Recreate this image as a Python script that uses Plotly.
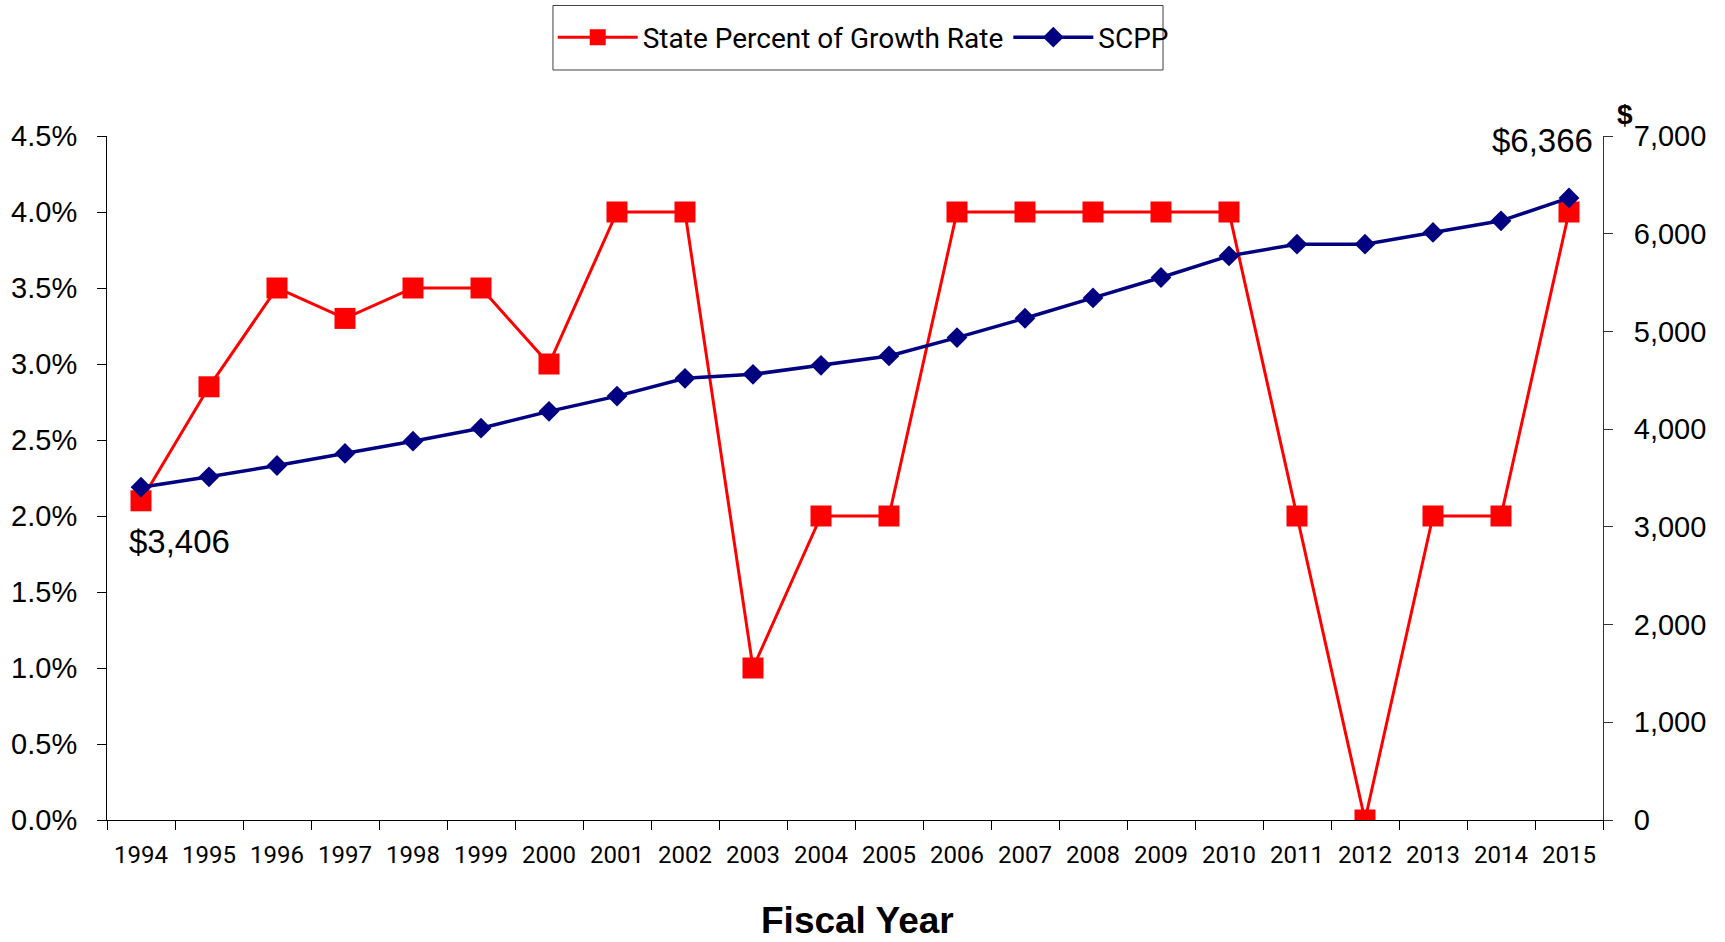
import plotly.graph_objects as go

# Fiscal years on the category axis
years = [str(y) for y in range(1994, 2016)]

# State percent of growth rate (%), left axis
growth_rate = [2.10, 2.85, 3.50, 3.30, 3.50, 3.50, 3.00, 4.00, 4.00, 1.00, 2.00,
               2.00, 4.00, 4.00, 4.00, 4.00, 4.00, 2.00, 0.00, 2.00, 2.00, 4.00]

# SCPP in dollars, right axis
scpp = [3406, 3512, 3628, 3751, 3877, 4010, 4182, 4338, 4520, 4561, 4653,
        4749, 4937, 5135, 5343, 5552, 5773, 5893, 5893, 6013, 6132, 6366]

pct_ticks = [i * 0.5 for i in range(10)]
pct_labels = [f"{v:.1f}%" for v in pct_ticks]
dollar_ticks = list(range(0, 7001, 1000))

RED = "#FF0000"
NAVY = "#000080"
ARIAL = "Liberation Sans, Arial, sans-serif"
NARROW = "Roboto, sans-serif"


def dollars(v):
    # numeric entity keeps the dollar sign out of math-mode parsing
    return f"&#36;{v:,}"


fig = go.Figure()

fig.add_trace(go.Scatter(
    x=years, y=growth_rate, name="State Percent of Growth Rate",
    mode="lines+markers",
    line=dict(color=RED, width=3),
    marker=dict(symbol="square", size=21, color=RED),
    yaxis="y",
))

fig.add_trace(go.Scatter(
    x=years, y=scpp, name="SCPP",
    mode="lines+markers",
    line=dict(color=NAVY, width=3.5),
    marker=dict(symbol="diamond", size=16, color=NAVY),
    yaxis="y2",
))

n = len(years)
tick_len = 9

fig.update_layout(
    width=1725, height=942,
    margin=dict(l=107, r=122, t=136, b=122, autoexpand=False),
    paper_bgcolor="white", plot_bgcolor="white",
    showlegend=True,
    legend=dict(
        orientation="h", x=0.5055, xanchor="center", y=1.144, yanchor="middle",
        borderwidth=0, bgcolor="rgba(0,0,0,0)",
        font=dict(family=NARROW, size=28, color="black"),
        itemwidth=80,
    ),
    xaxis=dict(
        type="category", categoryorder="array", categoryarray=years,
        range=[-0.5, n - 0.5], tickson="boundaries",
        ticks="outside", ticklen=tick_len, tickcolor="black", tickwidth=1,
        showline=True, linecolor="black", linewidth=1, showgrid=False,
        tickfont=dict(family=NARROW, size=24, color="black"),
        ticklabelstandoff=13,
    ),
    # inside half of the crossing tick marks on the category axis
    xaxis2=dict(
        overlaying="x", anchor="y", side="bottom", range=[-0.5, n - 0.5],
        tickmode="linear", tick0=-0.5, dtick=1,
        ticks="inside", ticklen=tick_len, tickcolor="black", tickwidth=1,
        showticklabels=False, showline=False, showgrid=False, zeroline=False,
    ),
    yaxis=dict(
        range=[0, 4.5], tickvals=pct_ticks, ticktext=pct_labels,
        ticks="outside", ticklen=tick_len, tickcolor="black", tickwidth=1,
        showline=True, linecolor="black", linewidth=1,
        showgrid=False, zeroline=False,
        tickfont=dict(family=ARIAL, size=29, color="black"),
        ticklabelstandoff=14,
    ),
    yaxis2=dict(
        overlaying="y", side="right", anchor="x",
        range=[0, 7000], tickvals=dollar_ticks, tickformat=",d",
        ticks="outside", ticklen=tick_len, tickcolor="#333333", tickwidth=1,
        showline=True, linecolor="#333333", linewidth=1,
        showgrid=False, zeroline=False,
        tickfont=dict(family=ARIAL, size=29, color="black"),
        ticklabelstandoff=15,
    ),
    # inside halves of the crossing tick marks on both value axes
    yaxis3=dict(
        overlaying="y", side="left", anchor="x", range=[0, 4.5],
        tickvals=pct_ticks, ticks="inside", ticklen=tick_len,
        tickcolor="black", tickwidth=1,
        showticklabels=False, showline=False, showgrid=False, zeroline=False,
    ),
    yaxis4=dict(
        overlaying="y", side="right", anchor="x", range=[0, 7000],
        tickvals=dollar_ticks, ticks="inside", ticklen=tick_len,
        tickcolor="#333333", tickwidth=1,
        showticklabels=False, showline=False, showgrid=False, zeroline=False,
    ),
)

# frame around the legend, taller than plotly's built-in legend border
fig.add_shape(
    type="rect", xref="paper", yref="paper",
    x0=0.2981, x1=0.7059, y0=1.0965, y1=1.1908,
    line=dict(color="#404040", width=1), fillcolor="white", layer="below",
)

# value callouts at the first and last SCPP points
fig.add_annotation(
    x=0, y=scpp[0], xref="x", yref="y2",
    text=dollars(scpp[0]), showarrow=False,
    xanchor="left", yanchor="middle", xshift=-14, yshift=-54,
    font=dict(family=ARIAL, size=33, color="black"),
)
fig.add_annotation(
    x=n - 1, y=scpp[-1], xref="x", yref="y2",
    text=dollars(scpp[-1]), showarrow=False,
    xanchor="right", yanchor="middle", xshift=26, yshift=57,
    font=dict(family=ARIAL, size=33, color="black"),
)

# unit label above the right axis
fig.add_annotation(
    x=1.0, y=1.0, xref="paper", yref="paper",
    text="<b>&#36;</b>", showarrow=False,
    xanchor="center", yanchor="middle", xshift=22, yshift=22,
    font=dict(family=ARIAL, size=28, color="black"),
)

# x-axis title
fig.add_annotation(
    x=0.5, y=0, xref="paper", yref="paper",
    text="<b>Fiscal Year</b>", showarrow=False,
    xanchor="center", yanchor="middle", xshift=2, yshift=-100,
    font=dict(family=ARIAL, size=37, color="black"), borderpad=0,
)

fig.write_html("out.html")
